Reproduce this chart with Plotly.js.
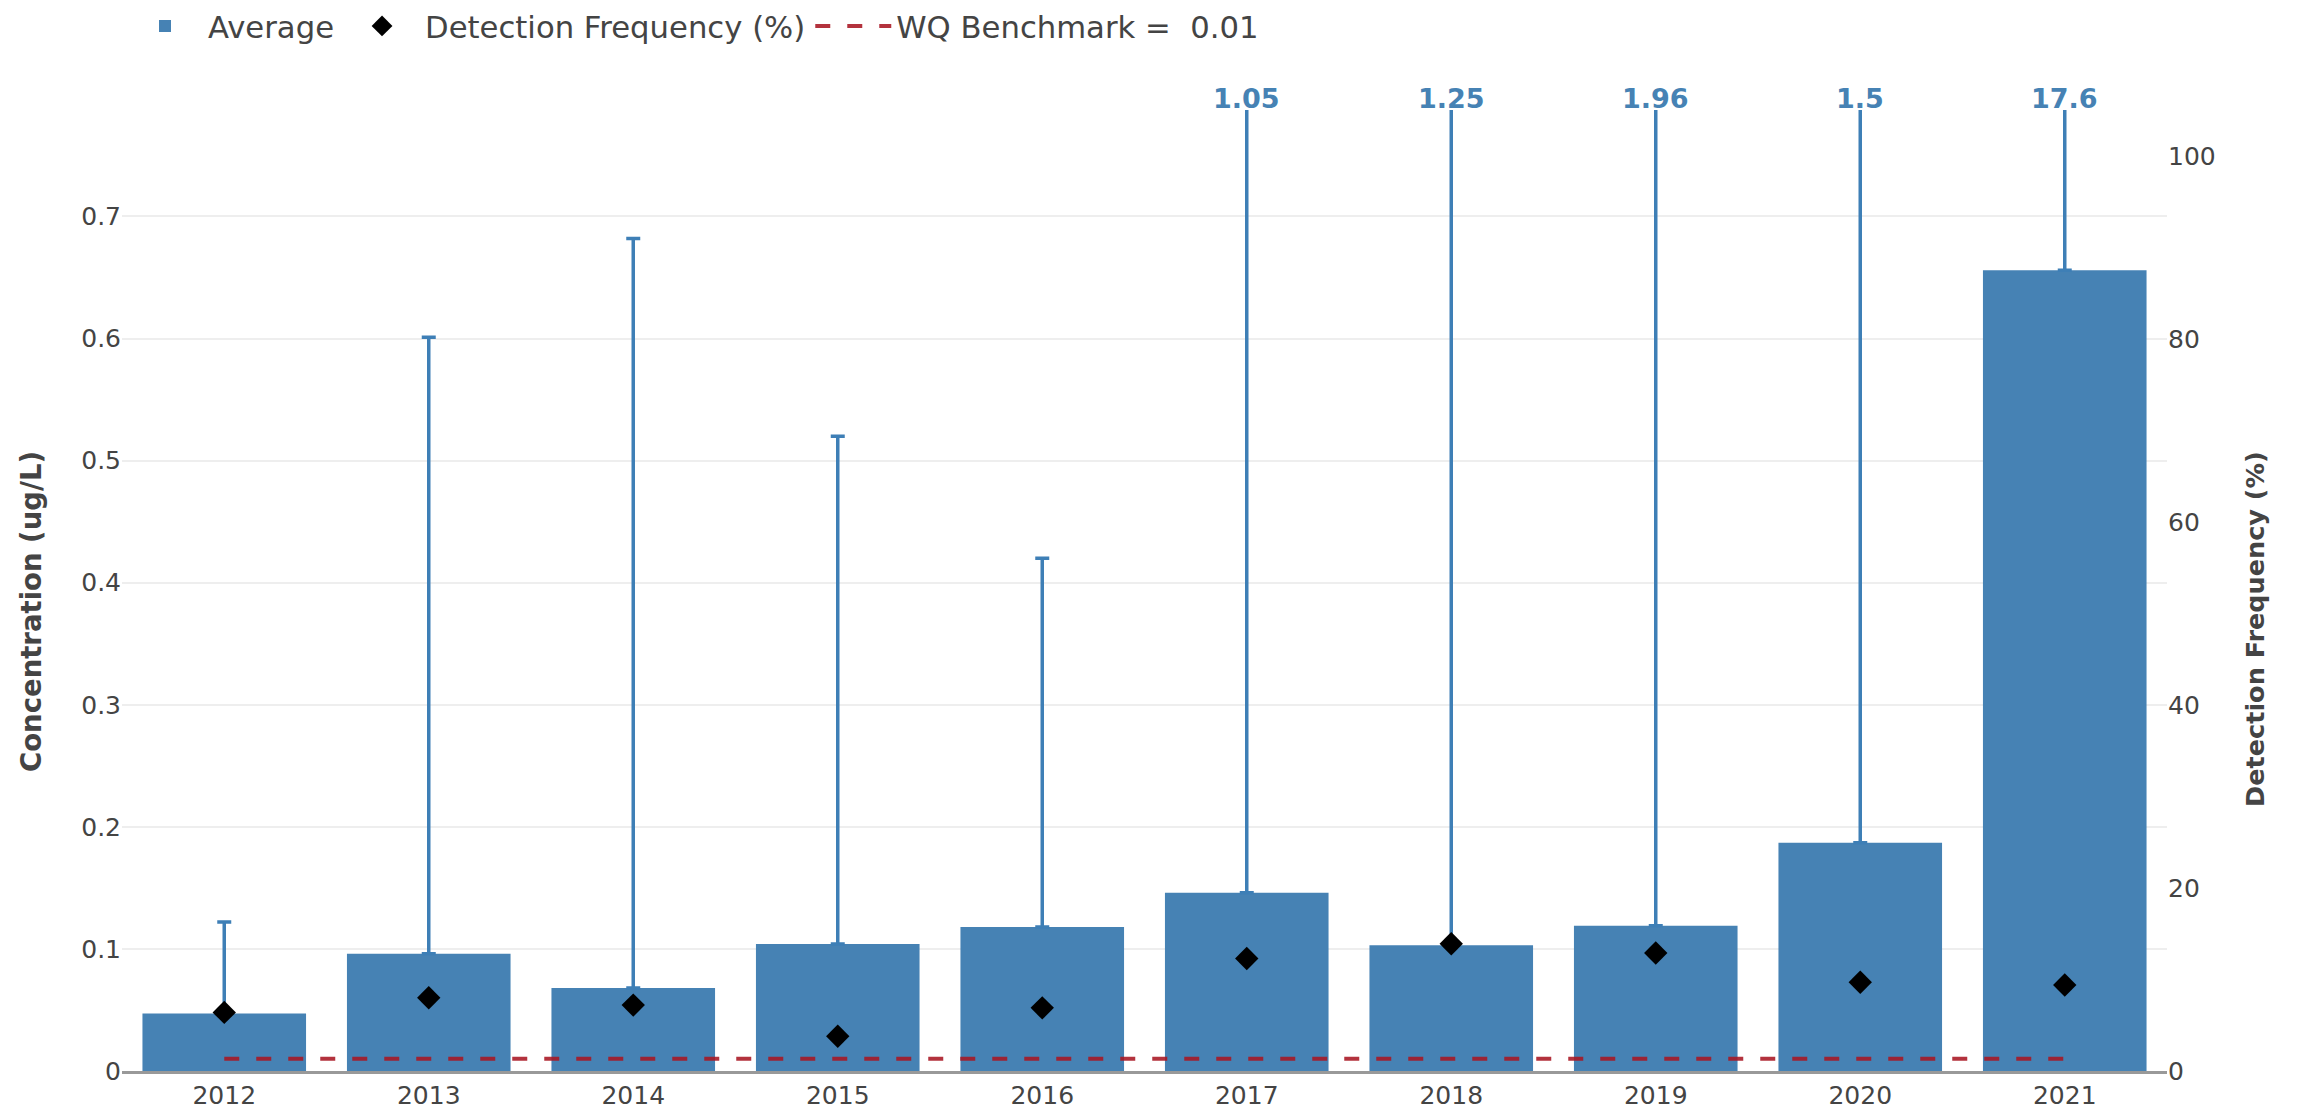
<!DOCTYPE html>
<html>
<head>
<meta charset="utf-8">
<script src="https://cdn.plot.ly/plotly-3.0.1.min.js"></script>
<style>
  html, body { margin: 0; padding: 0; background: #fff; }
  #chart { width: 2297px; height: 1111px; }
</style>
</head>
<body>
<div id="chart"></div>
<script>
// ---- data ----
const years = ['2012', '2013', '2014', '2015', '2016', '2017', '2018', '2019', '2020', '2021'];
const avgConc = [0.047, 0.096, 0.068, 0.104, 0.118, 0.146, 0.103, 0.119, 0.187, 0.656];
const maxConc = [0.122, 0.601, 0.682, 0.52, 0.42, 1.05, 1.25, 1.96, 1.5, 17.6];
const detFreq = [6.4, 8.0, 7.2, 3.8, 6.9, 12.3, 13.9, 12.9, 9.7, 9.4];
const benchmark = 0.01;
const leftTitle = 'Concentration (ug/L)';
const rightTitle = 'Detection Frequency (%)';

// ---- derived ----
const yMax = 1.2 * Math.max(...avgConc);
const errPlus = maxConc.map((m, i) => m - avgConc[i]);
const errMinus = avgConc.map(() => 0);
const benchLine = years.map(() => benchmark);

const FONT = 'DejaVu Sans, Verdana, sans-serif';
const BLUE = '#4682B4';
const ERR = '#3e7fb6';

const traces = [
  {
    type: 'bar', name: 'Average', x: years, y: avgConc,
    marker: { color: BLUE, line: { width: 0 } },
    error_y: { type: 'data', symmetric: false, array: errPlus, arrayminus: errMinus,
               color: ERR, thickness: 3.5, width: 7 },
    yaxis: 'y'
  },
  {
    type: 'scatter', mode: 'markers', name: 'Detection Frequency (%)', x: years, y: detFreq,
    marker: { symbol: 'diamond', size: 18, color: '#000' },
    yaxis: 'y2'
  },
  {
    type: 'scatter', mode: 'lines', name: 'WQ Benchmark =  ' + benchmark, x: years, y: benchLine,
    line: { color: 'rgba(168,22,34,0.88)', width: 4, dash: '15px,17px' },
    yaxis: 'y'
  }
];

const annotations = [];
maxConc.forEach((m, i) => {
  if (m > yMax) {
    annotations.push({
      x: i, y: 1, xref: 'x', yref: 'paper', yanchor: 'bottom', yshift: -6,
      text: '<b>' + m + '</b>', showarrow: false,
      font: { family: FONT, size: 27, color: BLUE }
    });
  }
});
// axis titles
annotations.push({
  xref: 'paper', yref: 'paper', x: -0.0445, y: 0.4787, xanchor: 'center', yanchor: 'middle',
  textangle: -90, showarrow: false, text: '<b>' + leftTitle + '</b>',
  font: { family: FONT, size: 27.5, color: '#444' }
});
annotations.push({
  xref: 'paper', yref: 'paper', x: 1.043, y: 0.46, xanchor: 'center', yanchor: 'middle',
  textangle: -90, showarrow: false, text: '<b>' + rightTitle + '</b>',
  font: { family: FONT, size: 25.5, color: '#444' }
});

const layout = {
  width: 2297, height: 1111,
  margin: { l: 122, r: 130, t: 110, b: 40, pad: 0 },
  paper_bgcolor: '#fff', plot_bgcolor: '#fff',
  font: { family: FONT, size: 25, color: '#444' },
  bargap: 0.2,
  showlegend: true,
  legend: {
    orientation: 'h', x: 0, xanchor: 'left',
    yref: 'container', y: 1 - 26 / 1111, yanchor: 'middle',
    font: { family: FONT, size: 30.7, color: '#444' },
    itemwidth: 76, bgcolor: 'rgba(0,0,0,0)'
  },
  xaxis: {
    type: 'category', range: [-0.5, years.length - 0.5],
    showline: true, linecolor: '#999', linewidth: 3,
    ticks: '', showgrid: false, zeroline: false,
    tickfont: { family: FONT, size: 25, color: '#444' }
  },
  yaxis: {
    range: [0, yMax], dtick: 0.1, showgrid: true, gridcolor: '#eeeeee', gridwidth: 2,
    zeroline: false, showline: false, ticks: '',
    tickfont: { family: FONT, size: 25, color: '#444' }
  },
  yaxis2: {
    overlaying: 'y', side: 'right', range: [0, 105], dtick: 20,
    showgrid: false, zeroline: false, showline: false, ticks: '',
    tickfont: { family: FONT, size: 25, color: '#444' }
  },
  annotations: annotations
};

Plotly.newPlot('chart', traces, layout, { displayModeBar: false, staticPlot: true });
</script>
</body>
</html>
